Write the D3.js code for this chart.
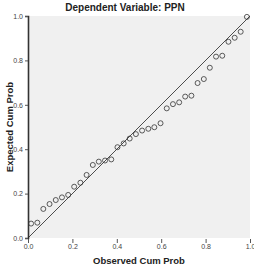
<!DOCTYPE html>
<meta charset="utf-8">
<head>
  <title>Normal P-P plot</title>
</head>
<style>
  body { margin: 0; background: #fff; }
  text { font-family: "Liberation Sans", Arial, sans-serif; }
</style>
<body>
<div id="content"></div>
<script src="https://cdnjs.cloudflare.com/ajax/libs/d3/7.8.5/d3.min.js"></script>
<script>

const width = 254
const height = 267

// observed vs expected cumulative probability
var observed = [0.014, 0.042, 0.069, 0.097, 0.125, 0.153, 0.181, 0.208, 0.236, 0.264,
                0.292, 0.319, 0.347, 0.375, 0.403, 0.431, 0.458, 0.486, 0.514, 0.542,
                0.569, 0.597, 0.625, 0.653, 0.681, 0.708, 0.736, 0.764, 0.792, 0.819,
                0.847, 0.875, 0.903, 0.931, 0.958, 0.986];
var expected = [0.065, 0.069, 0.131, 0.153, 0.171, 0.183, 0.194, 0.231, 0.249, 0.284,
                0.329, 0.344, 0.349, 0.354, 0.409, 0.426, 0.448, 0.468, 0.484, 0.492,
                0.499, 0.517, 0.584, 0.603, 0.611, 0.637, 0.641, 0.698, 0.716, 0.767,
                0.817, 0.821, 0.884, 0.902, 0.929, 0.996];
var tickValues = [0, 0.2, 0.4, 0.6, 0.8, 1.0];
var title = "Dependent Variable: PPN";
var xTitle = "Observed Cum Prob";
var yTitle = "Expected Cum Prob";

var plotL = 28, plotR = 250, plotT = 16, plotB = 238;

var x = d3.scaleLinear().domain([0, 1]).range([plotL, plotR]);
var y = d3.scaleLinear().domain([0, 1]).range([plotB, plotT]);

const svg = d3.select('#content')
  .append('svg')
    .attr('width', width)
    .attr('height', height)

// plot background
svg.append('rect')
  .attr('x', plotL).attr('y', plotT)
  .attr('width', plotR - plotL).attr('height', plotB - plotT)
  .attr('fill', '#f0f0f0')

// axes
var yAxis = d3.axisLeft(y).tickValues(tickValues).tickSize(3).tickPadding(2)
  .tickFormat(d3.format('.1f'));
var xAxis = d3.axisBottom(x).tickValues(tickValues).tickSize(4).tickPadding(1)
  .tickFormat(d3.format('.1f'));

var gy = svg.append('g').attr('transform', 'translate(' + plotL + ',0)').call(yAxis);
gy.select('.domain').attr('stroke', '#333').attr('stroke-width', 1.6);
var gx = svg.append('g').attr('transform', 'translate(0,' + (plotB + 1) + ')').call(xAxis);
gx.select('.domain').remove();

svg.selectAll('.tick line').attr('stroke', '#555');
svg.selectAll('.tick text')
  .attr('fill', '#444')
  .style('font-size', '7px');

// reference diagonal
svg.append('line')
  .attr('x1', x(0)).attr('y1', y(0))
  .attr('x2', x(1)).attr('y2', y(1))
  .attr('stroke', '#222')
  .attr('stroke-width', 0.8)

// points
var pts = observed.map(function(d, i) { return { o: d, e: expected[i] } });
svg.append('g').selectAll('circle')
  .data(pts)
  .enter()
  .append('circle')
    .attr('cx', function(d) { return x(d.o) })
    .attr('cy', function(d) { return y(d.e) })
    .attr('r', 2.5)
    .attr('fill', 'none')
    .attr('stroke', '#333')
    .attr('stroke-width', 0.8)

// titles
svg.append('text')
  .attr('x', 125).attr('y', 11)
  .attr('text-anchor', 'middle')
  .style('font-size', '10px').style('font-weight', 'bold')
  .attr('fill', '#222')
  .text(title)

svg.append('text')
  .attr('x', 139).attr('y', 264)
  .attr('text-anchor', 'middle')
  .style('font-size', '9.5px').style('font-weight', 'bold')
  .attr('fill', '#222')
  .text(xTitle)

svg.append('text')
  .attr('transform', 'translate(13,127) rotate(-90)')
  .attr('text-anchor', 'middle')
  .style('font-size', '9.5px').style('font-weight', 'bold')
  .attr('fill', '#222')
  .text(yTitle)

</script>
</body>
</html>
